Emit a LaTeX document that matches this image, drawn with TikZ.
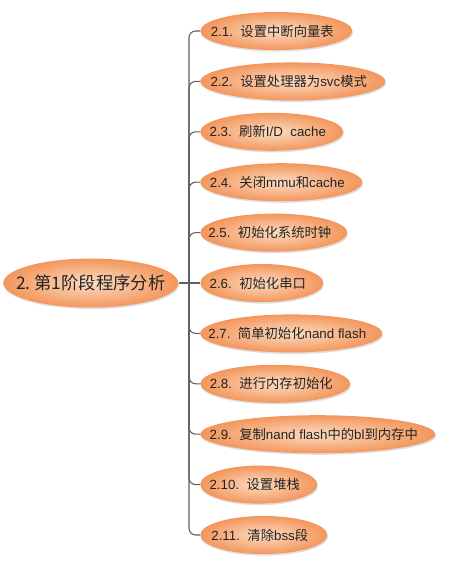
\documentclass[tikz,border=0pt]{standalone}
\usepackage{fontspec}
\setmainfont{Liberation Sans}
\newfontfamily\cjk{Noto Sans CJK SC}
\usepackage{tikz}
\usetikzlibrary{shapes.geometric, shadows}
\definecolor{mmedge}{RGB}{243, 150, 92}
\definecolor{mmcore}{RGB}{253, 220, 194}
\definecolor{mmline}{RGB}{95, 95, 95}
\definecolor{mmtext}{RGB}{35, 35, 35}

\begin{document}
\begin{tikzpicture}[
    x=0.75pt, y=-0.75pt,
    topic/.style={ellipse, anchor=west, inner xsep=-60pt, inner ysep=0pt, minimum height=28.5pt,
        shade, inner color=mmcore, outer color=mmedge, text=mmtext,
        drop shadow={shadow xshift=0.6pt, shadow yshift=-1.2pt, opacity=0.25, fill=black!50},
        font=\fontsize{10pt}{12pt}\selectfont},
    root/.style={topic, minimum height=36.75pt, font=\cjk\fontsize{13pt}{15pt}\selectfont},
    link/.style={draw=mmline, line width=0.8pt, rounded corners=5pt},
]
    \useasboundingbox (0,0) rectangle (449,568);

    % Root topic
    \node[root, minimum width=131.25pt] (root) at (3,283) {2.~第1阶段程序分析};
    \coordinate (hub) at (189,283);

    % Subtopics
    \node[topic, minimum width=114pt]    (s1)  at (200,31)    {2.1.~~{\cjk 设置中断向量表}\kern6pt};
    \node[topic, minimum width=138.75pt] (s2)  at (200,81.4)  {2.2.~~{\cjk 设置处理器为}svc{\cjk 模式}\kern6pt};
    \node[topic, minimum width=107.25pt] (s3)  at (200,131.8) {2.3.~~{\cjk 刷新}I/D~~cache\kern6pt};
    \node[topic, minimum width=121.5pt]  (s4)  at (200,182.2) {2.4.~~{\cjk 关闭}mmu{\cjk 和}cache\kern6pt};
    \node[topic, minimum width=110.25pt] (s5)  at (200,232.6) {2.5.~~{\cjk 初始化系统时钟}\kern6pt};
    \node[topic, minimum width=92.25pt]  (s6)  at (200,283)   {2.6.~~{\cjk 初始化串口}\kern6pt};
    \node[topic, minimum width=136.5pt]  (s7)  at (200,333.4) {2.7.~~{\cjk 简单初始化}nand flash\kern6pt};
    \node[topic, minimum width=112.5pt]  (s8)  at (200,383.8) {2.8.~~{\cjk 进行内存初始化}\kern6pt};
    \node[topic, minimum width=176.25pt] (s9)  at (200,434.2) {2.9.~~{\cjk 复制}nand flash{\cjk 中的}bl{\cjk 到内存中}\kern6pt};
    \node[topic, minimum width=87.75pt]  (s10) at (200,484.6) {2.10.~~{\cjk 设置堆栈}\kern6pt};
    \node[topic, minimum width=95.25pt]  (s11) at (200,535)   {2.11.~~{\cjk 清除}bss{\cjk 段}\kern6pt};

    % Branches
    \draw[link] (root.east) -- (hub);
    \draw[link] (hub) |- (s1.west);
    \draw[link] (hub) |- (s2.west);
    \draw[link] (hub) |- (s3.west);
    \draw[link] (hub) |- (s4.west);
    \draw[link] (hub) |- (s5.west);
    \draw[link] (hub) -- (s6.west);
    \draw[link] (hub) |- (s7.west);
    \draw[link] (hub) |- (s8.west);
    \draw[link] (hub) |- (s9.west);
    \draw[link] (hub) |- (s10.west);
    \draw[link] (hub) |- (s11.west);
\end{tikzpicture}
\end{document}
